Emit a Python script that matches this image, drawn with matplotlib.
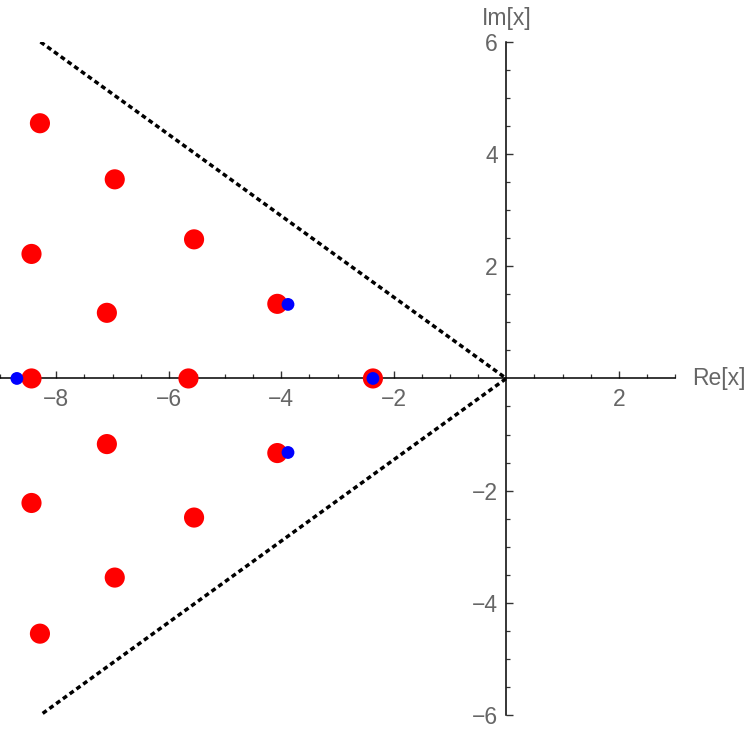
import matplotlib
matplotlib.use("Agg")
import matplotlib.pyplot as plt
import numpy as np
from matplotlib.ticker import FixedLocator

# red points (real, imag)
red_re = [-2.37, -4.07, -4.07, -5.65, -5.55, -5.55, -7.10, -7.10,
          -6.96, -6.96, -8.44, -8.44, -8.44, -8.29, -8.29]
red_im = [0.0, 1.33, -1.33, 0.0, 2.48, -2.48, 1.17, -1.17,
          3.55, -3.55, 0.0, 2.22, -2.22, 4.55, -4.55]

# blue points
blue_re = [-2.37, -3.88, -3.88, -8.70]
blue_im = [0.0, 1.32, -1.32, 0.0]

# dotted wedge
wedge_re = [-8.28, 0.0, -8.28]
wedge_im = [6.0, 0.0, -6.0]

x_major = [-8, -6, -4, -2, 2]
y_major = [-6, -4, -2, 2, 4, 6]

label_color = "#666666"
plt.rcParams['font.family'] = ['Liberation Sans', 'DejaVu Sans']

fig = plt.figure(figsize=(7.5, 7.34), dpi=100)
ax = fig.add_axes([0.0, 0.0259, 0.9, 0.917])

ax.plot(wedge_re, wedge_im, color='black', lw=2.5, linestyle=(0, (1.4, 1.0)),
        zorder=2, dash_capstyle='butt')
ax.scatter(red_re, red_im, s=210, color='#ff0000', edgecolors='none', zorder=3)
ax.scatter(blue_re, blue_im, s=85, color='#0000ff', edgecolors='none', zorder=4)

ax.set_xlim(-9, 3)
ax.set_ylim(-6, 6)

for side in ['top', 'right']:
    ax.spines[side].set_visible(False)
ax.spines['bottom'].set_position(('data', 0))
ax.spines['left'].set_position(('data', 0))
for side in ['bottom', 'left']:
    ax.spines[side].set_linewidth(1.1)
    ax.spines[side].set_zorder(2.5)

ax.xaxis.set_major_locator(FixedLocator(x_major))
ax.yaxis.set_major_locator(FixedLocator(y_major))
x_minor = [v for v in np.arange(-9, 3.01, 0.5) if v not in x_major and v != 0]
y_minor = [v for v in np.arange(-6, 6.01, 0.5) if v not in y_major and v != 0]
ax.xaxis.set_minor_locator(FixedLocator(x_minor))
ax.yaxis.set_minor_locator(FixedLocator(y_minor))
ax.set_xticklabels(["\u2212" + str(-v) if v < 0 else str(v) for v in x_major])
ax.set_yticklabels(["\u2212" + str(-v) if v < 0 else str(v) for v in y_major])

ax.tick_params(which='major', direction='in', length=5, width=1.0, labelsize=16.5,
               labelcolor=label_color, color='#333333')
ax.tick_params(which='minor', direction='in', length=3.2, width=0.9, color='#333333')
ax.tick_params(axis='x', which='major', pad=7)
ax.tick_params(axis='y', which='major', pad=6)

ax.text(3.31, 0, "Re[x]", ha='left', va='center', fontsize=16.5,
        color=label_color, clip_on=False)
ax.text(0, 6.22, "Im[x]", ha='center', va='bottom', fontsize=16.5,
        color=label_color, clip_on=False)

fig.savefig("out.png", dpi=100)
